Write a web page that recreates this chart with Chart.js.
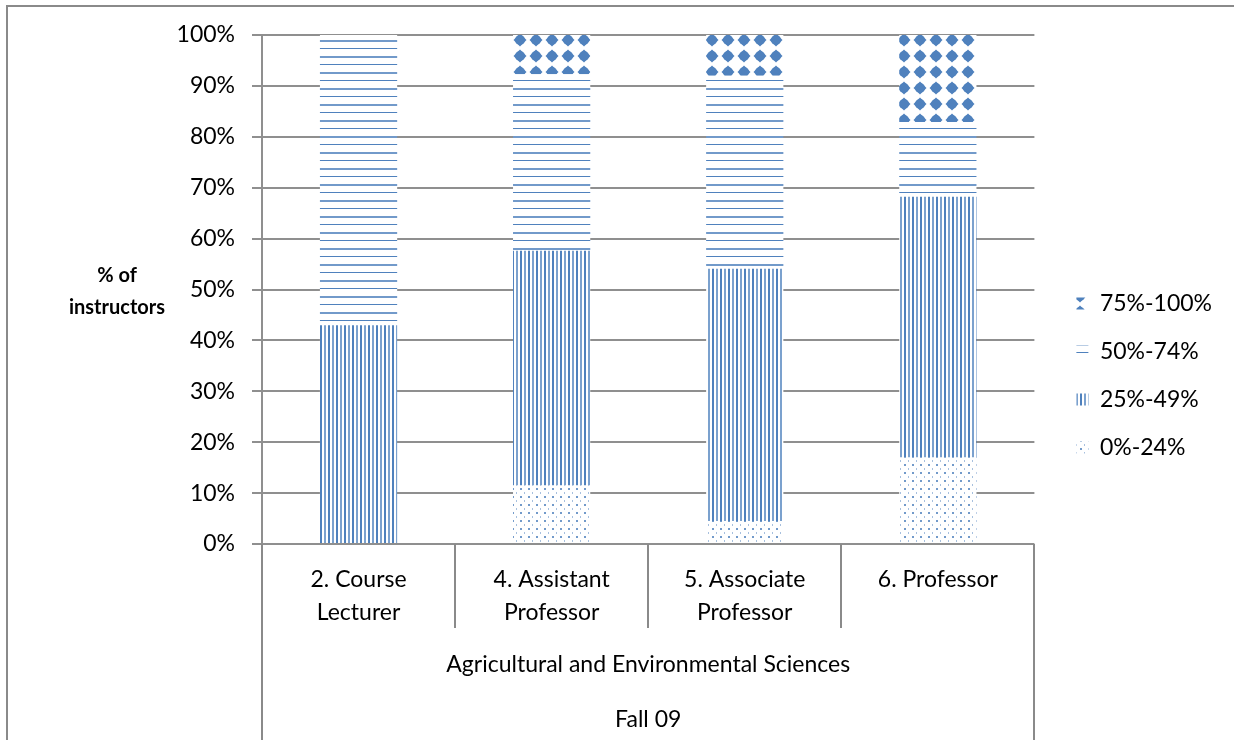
<!DOCTYPE html>
<html>
<head>
<meta charset="utf-8">
<script src="https://cdn.jsdelivr.net/npm/chart.js@4/dist/chart.umd.min.js"></script>
<style>
  body { margin: 0; background: #fff; }
  #wrap { position: relative; width: 1234px; height: 740px; }
  #frame { position: absolute; left: 6px; top: 5px; width: 1300px; height: 800px;
           border-left: 2px solid #8a8a8a; border-top: 2px solid #8a8a8a; }
  #ytitle { position: absolute; left: 55px; top: 258px; width: 124px; text-align: center;
            font: bold 20px Lato, sans-serif; line-height: 32px; color: #000; }
</style>
</head>
<body>
<div id="wrap">
  <div id="frame"></div>
  <canvas id="instructorChart" width="1234" height="740"></canvas>
  <div id="ytitle">% of<br>instructors</div>
</div>
<script>
var categories = [["2. Course", "Lecturer"], ["4. Assistant", "Professor"], ["5. Associate", "Professor"], ["6. Professor"]];
var groupLabel = ["Agricultural and Environmental Sciences"];
var termLabel = ["Fall 09"];
var seriesNames = ["0%-24%", "25%-49%", "50%-74%", "75%-100%"];
var band0to24 = [0, 11.5, 4.5, 17.0];
var band25to49 = [43.0, 46.1, 49.6, 51.2];
var band50to74 = [57.0, 34.7, 37.9, 14.7];
var band75to100 = [0, 7.7, 8.0, 17.1];
var yTicks = [0, 10, 20, 30, 40, 50, 60, 70, 80, 90, 100];

var blue = "#4f81bd";
var ctx = document.getElementById("instructorChart").getContext("2d");

function makePattern(w, h, draw) {
  var c = document.createElement("canvas");
  c.width = w;
  c.height = h;
  var g = c.getContext("2d");
  g.fillStyle = "#fff";
  g.fillRect(0, 0, w, h);
  g.fillStyle = blue;
  draw(g);
  return ctx.createPattern(c, "repeat");
}

var dotPattern = makePattern(8, 8, function (g) {
  g.globalAlpha = 0.8;
  g.fillRect(0, 0, 2, 2);
  g.globalAlpha = 0.5;
  g.fillRect(4, 4, 1, 2);
});
var vertPattern = makePattern(8, 8, function (g) {
  g.fillRect(0, 0, 2, 8);
  g.globalAlpha = 0.75;
  g.fillRect(4, 0, 2, 8);
});
var horizPattern = makePattern(16, 16, function (g) {
  g.fillRect(0, 0, 16, 1);
  g.globalAlpha = 0.8;
  g.fillRect(0, 8, 16, 2);
});
var diamondPattern = makePattern(16, 16, function (g) {
  g.beginPath();
  g.arc(8, 8, 5, 0, Math.PI * 2);
  g.fill();
  g.beginPath();
  g.moveTo(8, 1.5);
  g.lineTo(14.5, 8);
  g.lineTo(8, 14.5);
  g.lineTo(1.5, 8);
  g.closePath();
  g.fill();
});

// category dividers below the axis, like Excel's multi-level labels
var dividers = {
  id: "dividers",
  afterDraw: function (chart) {
    var x = chart.scales.x;
    var area = chart.chartArea;
    var c = chart.ctx;
    var step = (x.right - x.left) / categories.length;
    c.save();
    c.strokeStyle = "#8a8a8a";
    c.lineWidth = 2;
    for (var i = 0; i <= categories.length; i++) {
      var px = Math.round(x.left + i * step);
      var bottom = (i === 0 || i === categories.length) ? chart.height : x.bottom;
      c.beginPath();
      c.moveTo(px, area.bottom);
      c.lineTo(px, bottom);
      c.stroke();
    }
    c.restore();
  }
};

var font = { family: "Lato, sans-serif", size: 23 };
var hidden = { display: false };

new Chart(ctx, {
  type: "bar",
  data: {
    labels: categories,
    datasets: [
      { label: seriesNames[0], data: band0to24, backgroundColor: dotPattern, xAxisID: "x", yAxisID: "y" },
      { label: seriesNames[1], data: band25to49, backgroundColor: vertPattern, xAxisID: "x", yAxisID: "y" },
      { label: seriesNames[2], data: band50to74, backgroundColor: horizPattern, xAxisID: "x", yAxisID: "y" },
      { label: seriesNames[3], data: band75to100, backgroundColor: diamondPattern, xAxisID: "x", yAxisID: "y" }
    ]
  },
  options: {
    responsive: false,
    animation: false,
    layout: { padding: { top: 11, right: 12, left: 0, bottom: 0 } },
    datasets: { bar: { categoryPercentage: 1, barPercentage: 0.4, borderWidth: 0 } },
    plugins: {
      tooltip: { enabled: false },
      legend: {
        position: "right",
        reverse: true,
        labels: { font: font, color: "#000", boxWidth: 12, boxHeight: 12, padding: 25 }
      }
    },
    scales: {
      x: {
        stacked: true,
        afterFit: function (s) { s.height = 84; },
        ticks: { font: { family: "Lato, sans-serif", size: 23, lineHeight: 1.43 }, color: "#000", padding: 11, maxRotation: 0 },
        grid: hidden,
        border: hidden
      },
      y: {
        stacked: true,
        min: 0,
        max: 100,
        afterFit: function (s) { s.width = 262; },
        afterBuildTicks: function (s) { s.ticks = yTicks.map(function (v) { return { value: v }; }); },
        ticks: { font: font, color: "#000", padding: 17, callback: function (v) { return v + "%"; } },
        grid: { color: "#8f8f8f", lineWidth: 2, tickLength: 10 },
        border: { color: "#8f8f8f", width: 2 }
      },
      ySpacer: {
        position: "right",
        min: 0,
        max: 100,
        afterFit: function (s) { s.width = 17; },
        ticks: hidden,
        grid: hidden,
        border: hidden
      },
      xTop: {
        type: "category",
        position: "top",
        labels: [""],
        afterFit: function (s) { s.height = 24; },
        ticks: hidden,
        grid: hidden,
        border: hidden
      },
      x2: {
        type: "category",
        position: "bottom",
        labels: groupLabel,
        afterFit: function (s) { s.height = 60; },
        ticks: { font: font, color: "#000", padding: 15 },
        grid: hidden,
        border: hidden
      },
      x3: {
        type: "category",
        position: "bottom",
        labels: termLabel,
        afterFit: function (s) { s.height = 52; },
        ticks: { font: font, color: "#000", padding: 10 },
        grid: hidden,
        border: hidden
      }
    }
  },
  plugins: [dividers]
});
</script>
</body>
</html>
